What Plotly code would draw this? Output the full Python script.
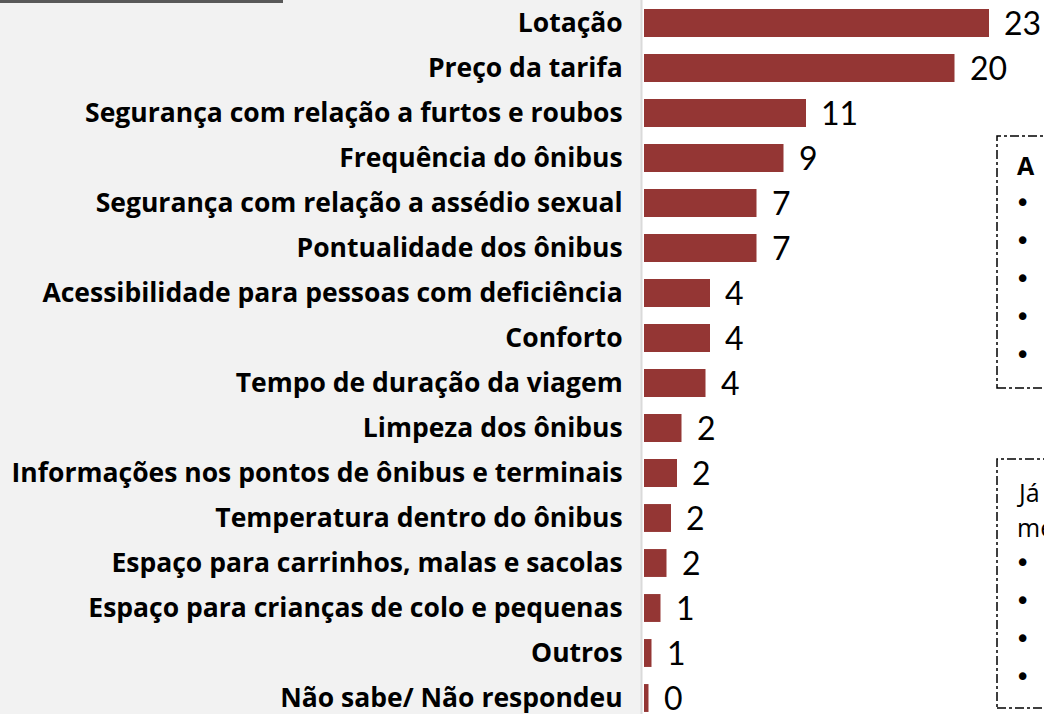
import plotly.graph_objects as go

categories = [
    "Lotação",
    "Preço da tarifa",
    "Segurança com relação a furtos e roubos",
    "Frequência do ônibus",
    "Segurança com relação a assédio sexual",
    "Pontualidade dos ônibus",
    "Acessibilidade para pessoas com deficiência",
    "Conforto",
    "Tempo de duração da viagem",
    "Limpeza dos ônibus",
    "Informações nos pontos de ônibus e terminais",
    "Temperatura dentro do ônibus",
    "Espaço para carrinhos, malas e sacolas",
    "Espaço para crianças de colo e pequenas",
    "Outros",
    "Não sabe/ Não respondeu",
]
values = [23.0, 20.7, 10.8, 9.3, 7.5, 7.5, 4.4, 4.4, 4.1, 2.5, 2.2, 1.8, 1.5, 1.1, 0.5, 0.3]
value_labels = ["23", "20", "11", "9", "7", "7", "4", "4", "4", "2", "2", "2", "2", "1", "1", "0"]

box1_title = "A"
box1_bullets = 5
box2_lines = ["Já", "me"]
box2_bullets = 4

W, H = 1044, 714
BAR_COLOR = "#943634"

fig = go.Figure()
fig.add_trace(go.Bar(
    x=values,
    y=categories,
    orientation="h",
    marker=dict(color=BAR_COLOR, line=dict(width=0)),
    width=0.62,
    hoverinfo="skip",
))

annotations = []
for cat, v, lab in zip(categories, values, value_labels):
    annotations.append(dict(
        x=v, y=cat, xref="x", yref="y", text=lab, showarrow=False,
        xanchor="left", yanchor="middle", xshift=13, yshift=1,
        font=dict(family="Lato", size=32, color="#000000"),
    ))

def px(x):
    return x / W

def py(y):
    return 1 - y / H

def text_ann(t, x, y, bold=False, size=25):
    return dict(x=px(x), y=py(y), xref="paper", yref="paper", text=t, showarrow=False,
                xanchor="left", yanchor="middle",
                font=dict(family="Open Sans", size=size, color="#000000",
                          weight="bold" if bold else "normal"))

def bullet_ann(y):
    return dict(x=px(1022), y=py(y), xref="paper", yref="paper", text="•", showarrow=False,
                xanchor="center", yanchor="middle",
                font=dict(family="DejaVu Sans", size=26, color="#000000"))

annotations.append(text_ann(box1_title, 1015, 165, bold=True))
for i in range(box1_bullets):
    annotations.append(bullet_ann(203 + 38 * i))
for i, t in enumerate(box2_lines):
    annotations.append(text_ann(t, 1015, 492 + 35 * i))
for i in range(box2_bullets):
    annotations.append(bullet_ann(563 + 38 * i))

shapes = [
    dict(type="rect", xref="paper", yref="paper", x0=0, x1=px(642), y0=0, y1=1,
         fillcolor="#f2f2f2", line=dict(width=0), layer="below"),
    dict(type="line", xref="paper", yref="paper", x0=px(641.5), x1=px(641.5), y0=0, y1=1,
         line=dict(color="#dadada", width=2), layer="below"),
    dict(type="rect", xref="paper", yref="paper", x0=0, x1=px(283), y0=py(3), y1=1,
         fillcolor="#595959", line=dict(width=0), layer="above"),
    dict(type="rect", xref="paper", yref="paper", x0=px(997), x1=px(1080), y0=py(388), y1=py(136),
         fillcolor="rgba(0,0,0,0)", line=dict(color="#000000", width=1.5, dash="dashdot")),
    dict(type="rect", xref="paper", yref="paper", x0=px(997), x1=px(1080), y0=py(708), y1=py(459),
         fillcolor="rgba(0,0,0,0)", line=dict(color="#000000", width=1.5, dash="dashdot")),
]

row_px = 45.0
top_idx = -23.0 / row_px
bot_idx = top_idx + H / row_px

fig.update_layout(
    width=W, height=H,
    margin=dict(l=0, r=0, t=0, b=0),
    paper_bgcolor="#ffffff",
    plot_bgcolor="#ffffff",
    showlegend=False,
    xaxis=dict(domain=[644 / W, 1], range=[0, (W - 644) / 15.0], showgrid=False,
               zeroline=False, showline=False, showticklabels=False, ticks=""),
    yaxis=dict(range=[bot_idx, top_idx], showgrid=False, zeroline=False, showline=False,
               ticks="outside", ticklen=15, tickcolor="rgba(0,0,0,0)",
               tickfont=dict(family="Open Sans", size=26.5, color="#000000", weight="bold"),
               categoryorder="array", categoryarray=categories),
    annotations=annotations,
    shapes=shapes,
)

fig.write_html("out.html", config={"displayModeBar": False},
               post_script="document.body.style.margin='0';document.body.style.overflow='hidden';")
